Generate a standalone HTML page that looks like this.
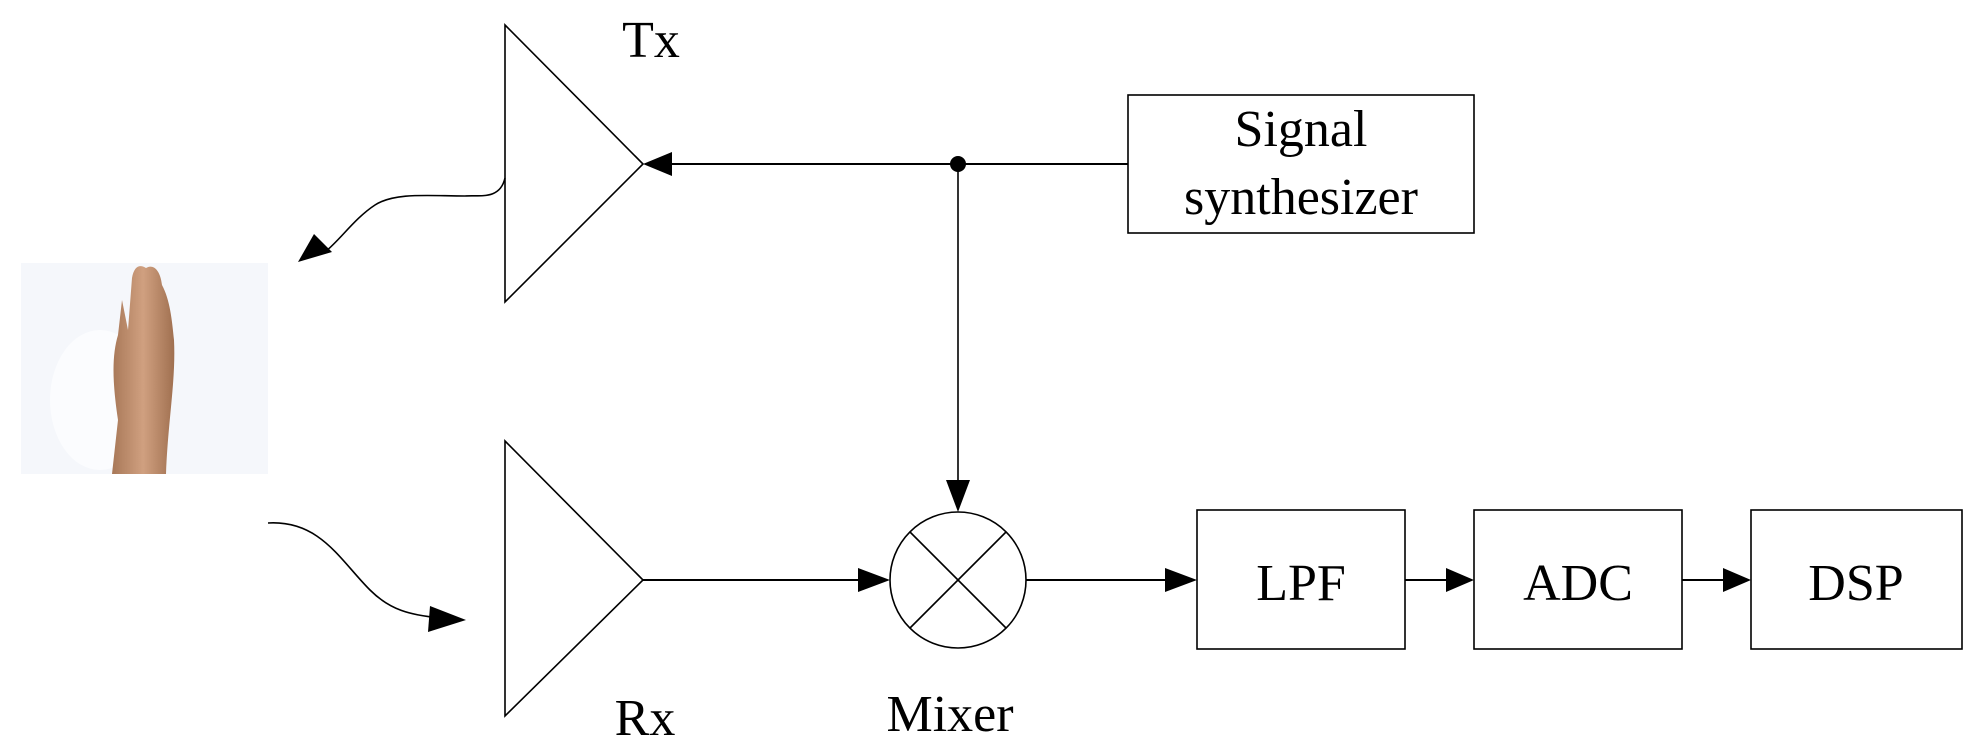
<!DOCTYPE html>
<html><head><meta charset="utf-8"><style>
html,body{margin:0;padding:0;background:#fff;width:1976px;height:754px;overflow:hidden}
text{font-family:"Liberation Serif",serif;fill:#000}
</style></head><body>
<svg width="1976" height="754" viewBox="0 0 1976 754" xmlns="http://www.w3.org/2000/svg">
<defs>
<linearGradient id="sk" x1="0" y1="0" x2="1" y2="0">
<stop offset="0" stop-color="#a87858"/><stop offset="0.5" stop-color="#d0a080"/><stop offset="1" stop-color="#a07050"/>
</linearGradient>
</defs>
<g stroke="#000" stroke-width="1.6" fill="none">
<polygon points="505,25 643,164 505,302"/>
<polygon points="505,441 643,580 505,716"/>
<rect x="1128" y="95" width="346" height="138"/>
<rect x="1197" y="510" width="208" height="139"/>
<rect x="1474" y="510" width="208" height="139"/>
<rect x="1751" y="510" width="211" height="139"/>
<circle cx="958" cy="580" r="68"/>
<line x1="910" y1="532" x2="1006" y2="628"/>
<line x1="1006" y1="532" x2="910" y2="628"/>
<line x1="1128" y1="164" x2="670" y2="164" stroke-width="2"/>
<line x1="958" y1="164" x2="958" y2="480"/>
<line x1="643" y1="580" x2="860" y2="580" stroke-width="2"/>
<line x1="1026" y1="580" x2="1170" y2="580" stroke-width="2"/>
<line x1="1405" y1="580" x2="1447" y2="580" stroke-width="2"/>
<line x1="1682" y1="580" x2="1724" y2="580" stroke-width="2"/>
<path d="M505,178 C500,200 480,195 465,196 C430,196 395,192 375,205 C355,218 340,240 325,252"/>
<path d="M268,523 C320,520 340,560 370,590 C390,610 410,615 440,618"/>
</g>
<g fill="#000">
<polygon points="643,164 672,152 672,176"/>
<circle cx="958" cy="164" r="8"/>
<polygon points="958,512 946,480 970,480"/>
<polygon points="890,580 858,568 858,592"/>
<polygon points="1197,580 1165,568 1165,592"/>
<polygon points="1474,580 1446,568 1446,592"/>
<polygon points="1751,580 1723,568 1723,592"/>
<polygon points="298,262 314,234 332,252"/>
<polygon points="466,620 430,606 428,632"/>
</g>
<rect x="21" y="263" width="247" height="211" fill="#f5f7fb"/>
<ellipse cx="100" cy="400" rx="50" ry="70" fill="#fbfcfe"/>
<path d="M112,474 L118,420 C112,380 112,355 118,335 L122,300 L128,330 L132,278 C134,266 140,264 146,268 C152,264 160,268 162,285 C170,300 172,320 174,340 C176,380 168,420 166,474 Z" fill="url(#sk)"/>
<text x="651" y="57" font-size="52" text-anchor="middle">Tx</text>
<text x="645" y="735" font-size="52" text-anchor="middle">Rx</text>
<text x="950" y="731" font-size="52" text-anchor="middle">Mixer</text>
<text x="1301" y="146" font-size="52" text-anchor="middle">Signal</text>
<text x="1301" y="214" font-size="52" text-anchor="middle">synthesizer</text>
<text x="1301" y="600" font-size="52" text-anchor="middle">LPF</text>
<text x="1578" y="600" font-size="52" text-anchor="middle">ADC</text>
<text x="1856" y="600" font-size="52" text-anchor="middle">DSP</text>
</svg>
</body></html>
